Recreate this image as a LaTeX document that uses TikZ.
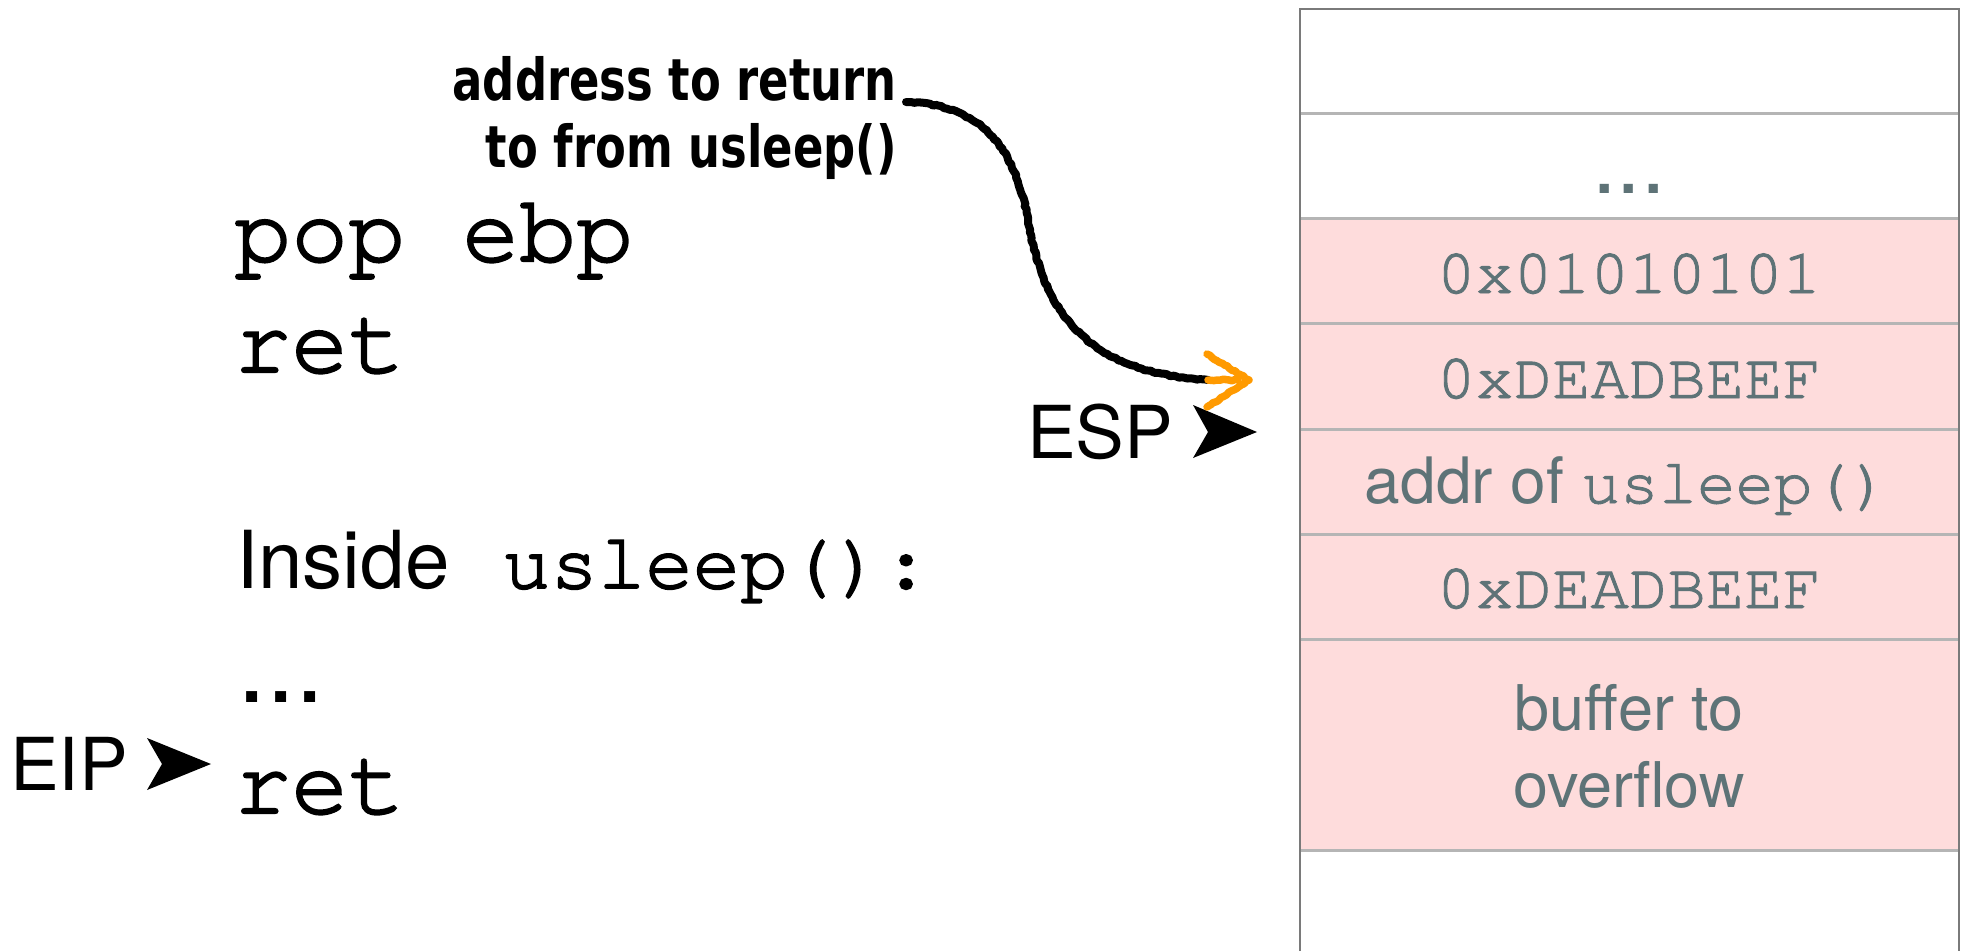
\documentclass[tikz,border=0pt]{standalone}
\usepackage{fontspec}
\setmainfont{TeX Gyre Heros}
\newfontfamily\handfont{DejaVu Sans Condensed}[FakeStretch=0.86]
\newfontfamily\codeface{TeX Gyre Cursor}[FakeBold=2.4]
\newfontfamily\slotface{TeX Gyre Cursor}[FakeBold=1.5]
\usetikzlibrary{decorations.pathmorphing}

\definecolor{cellpink}{HTML}{FEDCDC}
\definecolor{celltext}{HTML}{5E7377}
\definecolor{rulegray}{HTML}{B5B5B5}
\definecolor{edgegray}{HTML}{7A7A7A}
\definecolor{chalkorange}{HTML}{FF9A00}

% Courier for code, Helvetica-like sans for prose
\newcommand\codefont[1]{\codeface\fontsize{#1}{#1}\selectfont}
\newcommand\slotfont[1]{\slotface\fontsize{#1}{#1}\selectfont}
\newcommand\prosefont[1]{\fontsize{#1}{#1}\selectfont}

\tikzset{
  codeline/.style={anchor=base west, inner sep=0pt, font=\codefont{95}},
  prose/.style={anchor=base west, inner sep=0pt, font=\prosefont{#1}},
  slottext/.style={anchor=base, inner sep=0pt, text=celltext, font=\slotfont{64}},
  pointer/.style={fill=black, draw=none},
  slotrule/.style={draw=rulegray, line width=3pt},
  stackedge/.style={draw=edgegray, line width=2pt},
  chalk/.style={line width=8pt, line cap=round, line join=round,
    decorate, decoration={random steps, segment length=3pt, amplitude=0.8pt}},
}

\begin{document}
\begin{tikzpicture}[x=1pt, y=-1pt]
\useasboundingbox (0,0) rectangle (1965,951);

% ---- stack ----
\fill[cellpink] (1300,218) rectangle (1959,850);
\foreach \yy in {113,218,323,429,534,639,850}
  \draw[slotrule] (1300,\yy) -- (1959,\yy);
\draw[stackedge] (1300,951) -- (1300,9) -- (1959,9) -- (1959,951);

\node[anchor=base, inner sep=0pt, text=celltext, font=\prosefont{88}] (dots) at (1629,193) {...};
\node[slottext] (s1) at (1629,293) {0x01010101};
\node[slottext] (s2) at (1629,398) {0xDEADBEEF};
\node[anchor=base, inner sep=0pt, text=celltext, font=\prosefont{64}] (s3) at (1627,503)
  {addr of {\slotfont{64}usleep()}};
\node[slottext] (s4) at (1629,608) {0xDEADBEEF};
\node[anchor=center, inner sep=0pt, text=celltext, align=center,
      font={\fontsize{63}{77}\selectfont}] (buf) at (1629,746) {buffer to\\overflow};

% ---- code ----
\node[codeline] (pop) at (234,261) {pop ebp};
\node[codeline] (ret1) at (234,372) {ret};
\node[prose=80] (inside) at (236,588) {Inside};
\node[anchor=base west, inner sep=0pt, font=\codefont{79}] (usl) at (503,588) {usleep():};
\node[prose=105] (cdots) at (237,702) {...};
\node[codeline] (ret2) at (234,813) {ret};

% ---- register pointers ----
\node[prose=73] (esp) at (1027,458) {ESP};
\fill[pointer] (1193,405) -- (1257,432) -- (1193,458) -- (1208,432) -- cycle;
\node[prose=73] (eip) at (10,790) {EIP};
\fill[pointer] (147,738) -- (211,764) -- (147,790) -- (162,764) -- cycle;

% ---- note and chalk arrow ----
\node[anchor=north east, inner sep=0pt, align=right,
      font={\handfont\bfseries\fontsize{58}{67}\selectfont}] (note) at (897,56)
  {address to return\\to from usleep()};
\coordinate (cs) at (906,102);
\coordinate (cm) at (1028,220);
\coordinate (ce) at (1208,380);
\coordinate (tip) at (1249,380);
\draw[chalk] (cs) .. controls (985,105) and (1015,150) .. (cm)
             .. controls (1042,300) and (1075,372) .. (ce);
\draw[chalk, draw=chalkorange, line width=7.5pt] (ce) -- (1238,380);
\draw[chalk, draw=chalkorange, line width=7.5pt] (1207,354) -- (tip) -- (1207,407);
\end{tikzpicture}
\end{document}
